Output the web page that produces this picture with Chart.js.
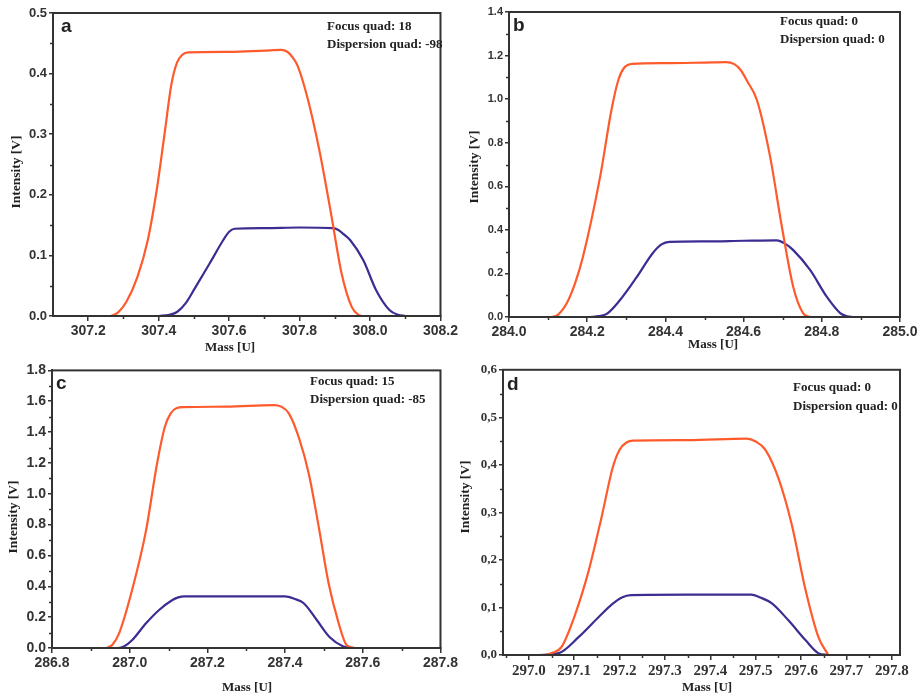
<!DOCTYPE html>
<html><head><meta charset="utf-8">
<script src="https://cdn.jsdelivr.net/npm/chart.js@4/dist/chart.umd.min.js"></script>
<style>
html,body{margin:0;padding:0;background:#fff;width:921px;height:700px;overflow:hidden;position:relative;}
canvas{position:absolute;}
</style></head><body>
<canvas id="ca" width="460" height="360" style="left:0;top:0"></canvas>
<canvas id="cb" width="461" height="360" style="left:460px;top:0"></canvas>
<canvas id="cc" width="460" height="340" style="left:0;top:360px"></canvas>
<canvas id="cd" width="461" height="340" style="left:460px;top:360px"></canvas>
<script>
// ---------- Panel a ----------
const massA_orange = [307.265, 307.285, 307.308, 307.34, 307.369, 307.395, 307.417, 307.436, 307.452, 307.467, 307.485, 307.60, 307.70, 307.748, 307.765, 307.78, 307.795, 307.822, 307.856, 307.889, 307.919, 307.948, 307.967, 307.98];
const intA_orange  = [0, 0.006, 0.023, 0.065, 0.125, 0.21, 0.302, 0.382, 0.418, 0.431, 0.435, 0.436, 0.438, 0.439, 0.436, 0.427, 0.412, 0.361, 0.274, 0.170, 0.071, 0.015, 0.002, 0];
const massA_blue   = [307.40, 307.43, 307.453, 307.478, 307.50, 307.545, 307.583, 307.60, 307.615, 307.70, 307.80, 307.895, 307.91, 307.925, 307.944, 307.981, 308.017, 308.055, 308.08, 308.10];
const intA_blue    = [0, 0.002, 0.007, 0.022, 0.043, 0.087, 0.125, 0.139, 0.144, 0.145, 0.146, 0.145, 0.142, 0.135, 0.125, 0.092, 0.043, 0.01, 0.002, 0];
const xTicksA = [307.2, 307.4, 307.6, 307.8, 308.0, 308.2];
const xMinorA = [307.3, 307.5, 307.7, 307.9, 308.1];
const yTicksA = [0, 0.1, 0.2, 0.3, 0.4, 0.5];
const yMinorA = [0.05, 0.15, 0.25, 0.35, 0.45];
const notesA = ["Focus quad: 18", "Dispersion quad: -98"];

// ---------- Panel b ----------
const massB_orange = [284.11, 284.125, 284.148, 284.17, 284.189, 284.233, 284.262, 284.28, 284.295, 284.315, 284.40, 284.50, 284.555, 284.575, 284.592, 284.61, 284.634, 284.668, 284.698, 284.727, 284.752, 284.77];
const intB_orange  = [0, 0.01, 0.064, 0.16, 0.275, 0.643, 0.95, 1.09, 1.145, 1.162, 1.165, 1.168, 1.17, 1.162, 1.135, 1.08, 0.996, 0.734, 0.413, 0.138, 0.018, 0];
const massB_blue   = [284.207, 284.23, 284.25, 284.284, 284.327, 284.368, 284.39, 284.41, 284.50, 284.60, 284.685, 284.705, 284.727, 284.77, 284.813, 284.847, 284.865, 284.88];
const intB_blue    = [0, 0.004, 0.014, 0.078, 0.184, 0.294, 0.333, 0.345, 0.347, 0.35, 0.352, 0.338, 0.307, 0.216, 0.092, 0.018, 0.003, 0];
const xTicksB = [284.0, 284.2, 284.4, 284.6, 284.8, 285.0];
const xMinorB = [284.1, 284.3, 284.5, 284.7, 284.9];
const yTicksB = [0, 0.2, 0.4, 0.6, 0.8, 1.0, 1.2, 1.4];
const yMinorB = [0.1, 0.3, 0.5, 0.7, 0.9, 1.1, 1.3];
const notesB = ["Focus quad: 0", "Dispersion quad: 0"];

// ---------- Panel c ----------
const massC_orange = [286.94, 286.955, 286.973, 287.006, 287.042, 287.07, 287.09, 287.105, 287.12, 287.14, 287.25, 287.37, 287.39, 287.41, 287.436, 287.461, 287.487, 287.512, 287.538, 287.558, 287.58];
const intC_orange  = [0, 0.02, 0.097, 0.374, 0.761, 1.19, 1.43, 1.52, 1.555, 1.562, 1.565, 1.575, 1.565, 1.52, 1.36, 1.13, 0.78, 0.42, 0.16, 0.02, 0];
const massC_blue   = [286.94, 286.97, 286.985, 287.006, 287.042, 287.075, 287.109, 287.125, 287.14, 287.25, 287.40, 287.425, 287.448, 287.482, 287.515, 287.55, 287.57];
const intC_blue    = [0, 0, 0.01, 0.05, 0.16, 0.245, 0.31, 0.328, 0.335, 0.335, 0.335, 0.318, 0.29, 0.18, 0.07, 0.01, 0];
const xTicksC = [286.8, 287.0, 287.2, 287.4, 287.6, 287.8];
const xMinorC = [286.9, 287.1, 287.3, 287.5, 287.7];
const yTicksC = [0, 0.2, 0.4, 0.6, 0.8, 1.0, 1.2, 1.4, 1.6, 1.8];
const yMinorC = [0.1, 0.3, 0.5, 0.7, 0.9, 1.1, 1.3, 1.5, 1.7];
const notesC = ["Focus quad: 15", "Dispersion quad: -85"];

// ---------- Panel d ----------
const massD_orange = [297.035, 297.05, 297.072, 297.103, 297.132, 297.16, 297.185, 297.2, 297.215, 297.23, 297.35, 297.48, 297.5, 297.521, 297.55, 297.579, 297.61, 297.638, 297.66];
const intD_orange  = [0, 0.004, 0.017, 0.088, 0.178, 0.289, 0.395, 0.432, 0.447, 0.451, 0.452, 0.455, 0.449, 0.432, 0.372, 0.276, 0.136, 0.038, 0];
const massD_blue   = [297.022, 297.066, 297.11, 297.154, 297.185, 297.205, 297.225, 297.35, 297.49, 297.51, 297.535, 297.572, 297.61, 297.638, 297.66];
const intD_blue    = [0, 0.004, 0.038, 0.08, 0.108, 0.121, 0.126, 0.127, 0.127, 0.121, 0.109, 0.073, 0.031, 0.004, 0];
const xTicksD = [297.0, 297.1, 297.2, 297.3, 297.4, 297.5, 297.6, 297.7, 297.8];
const xMinorD = [296.95, 297.05, 297.15, 297.25, 297.35, 297.45, 297.55, 297.65, 297.75];
const yTicksD = [0, 0.1, 0.2, 0.3, 0.4, 0.5, 0.6];
const yMinorD = [0.05, 0.15, 0.25, 0.35, 0.45, 0.55];
const notesD = ["Focus quad: 0", "Dispersion quad: 0"];

const ORANGE = '#ff5a2c';
const BLUE = '#3b2d92';
const AXIS = '#333333';
const SANS = "'Liberation Sans', Arial, sans-serif";
const SERIF = "'Liberation Serif', 'Times New Roman', serif";

const zip = (xs, ys) => xs.map((x, i) => ({x: x, y: ys[i]}));

const panelPlugin = {
  id: 'panelDecor',
  afterDraw(chart, args, o) {
    const ctx = chart.ctx;
    const ca = chart.chartArea;
    const xs = chart.scales.x, ys = chart.scales.y;
    ctx.save();
    ctx.strokeStyle = AXIS; ctx.lineWidth = 1.5;
    o.xMinor.forEach(v => {
      const px = Math.round(xs.getPixelForValue(v)) + 0.5;
      ctx.beginPath(); ctx.moveTo(px, ca.bottom); ctx.lineTo(px, ca.bottom + 3); ctx.stroke();
    });
    o.yMinor.forEach(v => {
      const py = Math.round(ys.getPixelForValue(v)) + 0.5;
      ctx.beginPath(); ctx.moveTo(ca.left - 3, py); ctx.lineTo(ca.left, py); ctx.stroke();
    });
    ctx.lineWidth = 2;
    ctx.strokeRect(ca.left, ca.top, ca.right - ca.left, ca.bottom - ca.top);
    ctx.fillStyle = '#222';
    ctx.font = 'bold 19px ' + SANS;
    ctx.textBaseline = 'middle'; ctx.textAlign = 'left';
    ctx.fillText(o.letter, ca.left + o.letterDx, ca.top + o.letterDy);
    ctx.font = 'bold 13px ' + SERIF;
    o.notes.forEach((t, i) => ctx.fillText(t, o.noteX, o.noteY + i * o.noteGap));
    ctx.font = 'bold 13px ' + SERIF;
    ctx.textAlign = 'center';
    ctx.fillText('Mass [U]', o.xTitleX, o.xTitleY);
    ctx.save();
    ctx.translate(o.yTitleX, o.yTitleY);
    ctx.rotate(-Math.PI / 2);
    ctx.font = 'bold 13.5px ' + SERIF;
    ctx.fillText('Intensity [V]', 0, 0);
    ctx.restore();
    ctx.restore();
  }
};

function makePanel(id, p) {
  const canvas = document.getElementById(id);
  const W = canvas.width, H = canvas.height;
  const fmt = p.comma ? (v => v.toFixed(1).replace('.', ',')) : (v => v.toFixed(1));
  new Chart(canvas, {
    type: 'line',
    data: {
      datasets: [
        {data: zip(p.mo, p.io), borderColor: ORANGE, borderWidth: 2.2, pointRadius: 0, cubicInterpolationMode: 'monotone', fill: false},
        {data: zip(p.mb, p.ib), borderColor: BLUE, borderWidth: 2.2, pointRadius: 0, cubicInterpolationMode: 'monotone', fill: false}
      ]
    },
    options: {
      responsive: false, animation: false, devicePixelRatio: 1,
      layout: {padding: {left: 0, top: p.top, right: W - p.right, bottom: 0}},
      plugins: {
        legend: {display: false}, tooltip: {enabled: false},
        panelDecor: {
          xMinor: p.xMinor, yMinor: p.yMinor, letter: p.letter, letterDx: p.letterDx, letterDy: p.letterDy,
          notes: p.notes, noteX: p.noteX, noteY: p.noteY, noteGap: p.noteGap,
          xTitleX: p.xTitleX, xTitleY: p.xTitleY, yTitleX: p.yTitleX, yTitleY: p.yTitleY
        }
      },
      scales: {
        x: {
          type: 'linear', min: p.xmin, max: p.xmax,
          afterFit: s => { s.height = H - p.bottom; },
          afterBuildTicks: s => { s.ticks = p.xTicks.map(v => ({value: v})); },
          border: {display: true, color: AXIS, width: 2},
          grid: {drawOnChartArea: false, drawTicks: true, tickLength: 5, color: AXIS, lineWidth: 1.5},
          ticks: {autoSkip: false, maxRotation: 0, padding: 2, color: '#333', font: {family: p.xFont, size: p.xSize, weight: 'bold'}, callback: v => v.toFixed(1)}
        },
        y: {
          type: 'linear', min: p.ymin, max: p.ymax,
          afterFit: s => { s.width = p.left; },
          afterBuildTicks: s => { s.ticks = p.yTicks.map(v => ({value: v})); },
          border: {display: true, color: AXIS, width: 2},
          grid: {drawOnChartArea: false, drawTicks: true, tickLength: 4, color: AXIS, lineWidth: 1.5},
          ticks: {autoSkip: false, padding: 2, color: '#333', font: {family: p.yFont, size: p.ySize, weight: 'bold'}, callback: v => fmt(v)}
        }
      }
    },
    plugins: [panelPlugin]
  });
}

makePanel('ca', {
  mo: massA_orange, io: intA_orange, mb: massA_blue, ib: intA_blue,
  xmin: 307.1, xmax: 308.2, ymin: 0, ymax: 0.5,
  xTicks: xTicksA, xMinor: xMinorA, yTicks: yTicksA, yMinor: yMinorA,
  left: 53, top: 13, right: 449, bottom: 316,
  xFont: SANS, xSize: 14, yFont: SANS, ySize: 13,
  letter: 'a', letterDx: 8, letterDy: 14,
  notes: notesA, noteX: 327, noteY: 27, noteGap: 18,
  xTitleX: 230, xTitleY: 348, yTitleX: 17, yTitleY: 172
});
makePanel('cb', {
  mo: massB_orange, io: intB_orange, mb: massB_blue, ib: intB_blue,
  xmin: 284.0, xmax: 285.0, ymin: 0, ymax: 1.4,
  xTicks: xTicksB, xMinor: xMinorB, yTicks: yTicksB, yMinor: yMinorB,
  left: 49, top: 12, right: 440, bottom: 317,
  xFont: SANS, xSize: 14, yFont: SANS, ySize: 11,
  letter: 'b', letterDx: 4, letterDy: 14,
  notes: notesB, noteX: 320, noteY: 22, noteGap: 18,
  xTitleX: 253, xTitleY: 345, yTitleX: 15, yTitleY: 167
});
makePanel('cc', {
  mo: massC_orange, io: intC_orange, mb: massC_blue, ib: intC_blue,
  xmin: 286.8, xmax: 287.8, ymin: 0, ymax: 1.8,
  xTicks: xTicksC, xMinor: xMinorC, yTicks: yTicksC, yMinor: yMinorC,
  left: 52, top: 9, right: 445, bottom: 288,
  xFont: SANS, xSize: 14, yFont: SANS, ySize: 14,
  letter: 'c', letterDx: 4, letterDy: 13,
  notes: notesC, noteX: 310, noteY: 22, noteGap: 18,
  xTitleX: 247, xTitleY: 328, yTitleX: 14, yTitleY: 157
});
makePanel('cd', {
  mo: massD_orange, io: intD_orange, mb: massD_blue, ib: intD_blue,
  xmin: 296.943, xmax: 297.818, ymin: 0, ymax: 0.6,
  xTicks: xTicksD, xMinor: xMinorD, yTicks: yTicksD, yMinor: yMinorD,
  left: 43, top: 8, right: 440, bottom: 295, comma: true,
  xFont: SERIF, xSize: 15, yFont: SERIF, ySize: 13,
  letter: 'd', letterDx: 4, letterDy: 15,
  notes: notesD, noteX: 333, noteY: 28, noteGap: 19,
  xTitleX: 247, xTitleY: 328, yTitleX: 6, yTitleY: 137
});
</script>
</body></html>
